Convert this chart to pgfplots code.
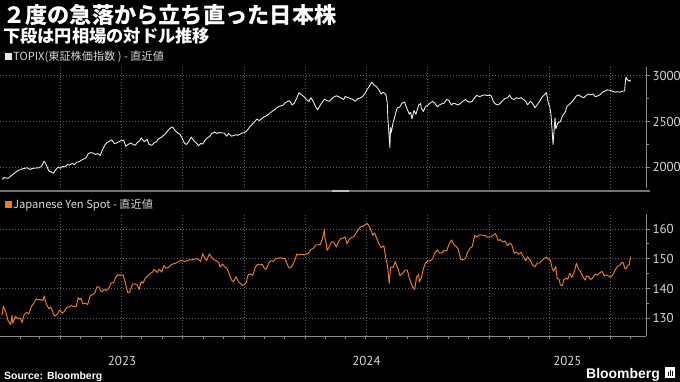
\documentclass[border=0pt]{standalone}
\usepackage{pgfplots}
\pgfplotsset{compat=1.18}
\usepackage{fontspec}
\setmainfont{Liberation Sans}
\newfontfamily\cjk{Noto Sans CJK JP}
\newfontfamily\lab{PT Sans}
\definecolor{yen}{HTML}{EE7A2C}
\definecolor{gridc}{HTML}{606060}
\definecolor{axc}{HTML}{8A8A8A}
\definecolor{txt}{HTML}{D8D8D8}

\pgfplotstableread{
d v
3 1868
6 1890
10 1881
13 1882
17 1910
20 1925
24 1950
27 1965
31 1975
34 1985
38 1990
41 1995
45 1975
48 1988
52 1990
55 1993
58 1994
62 2010
66 2067
69 2030
73 1960
76 1950
80 1935
83 1970
87 2003
90 1990
94 2010
97 2005
101 2030
104 2024
108 2045
111 2028
115 2057
118 2060
122 2080
125 2090
129 2105
132 2150
136 2160
139 2155
143 2140
146 2150
150 2130
153 2190
157 2245
160 2270
164 2285
167 2300
171 2258
174 2264
178 2280
180 2288
185 2295
188 2230
192 2250
195 2265
199 2250
202 2240
206 2275
209 2290
211 2322
213 2300
216 2280
220 2305
223 2250
227 2240
230 2265
234 2280
237 2310
242 2332
244 2345
248 2370
251 2400
255 2430
258 2440
262 2400
265 2380
269 2360
272 2323
276 2260
279 2250
283 2290
286 2330
290 2290
293 2270
297 2235
300 2260
303 2253
307 2300
310 2320
314 2340
317 2370
321 2385
324 2370
328 2380
333 2374
335 2375
339 2340
342 2370
346 2340
349 2345
353 2355
356 2350
360 2366
368 2390
374 2445
377 2470
381 2500
384 2525
388 2510
391 2530
395 2551
398 2560
402 2580
405 2600
409 2620
412 2640
416 2660
419 2670
423 2675
426 2700
430 2720
433 2725
437 2680
440 2700
444 2760
447 2813
451 2790
455 2768
458 2740
462 2720
465 2760
469 2710
472 2660
475 2626
479 2680
485 2743
488 2730
493 2720
496 2750
500 2770
503 2780
507 2770
510 2755
514 2740
516 2772
521 2760
524 2750
528 2740
531 2720
535 2750
538 2755
542 2770
546 2809
549 2850
552 2880
556 2929
559 2900
563 2880
566 2850
570 2800
573 2820
577 2794
579 2710
580 2537
583 2215
584 2434
585 2380
588 2490
592 2600
594 2646
598 2660
601 2700
605 2712
608 2650
612 2580
614 2600
616 2530
619 2620
622 2580
626 2680
629 2695
630 2645
633 2610
636 2660
640 2680
643 2700
647 2720
650 2700
654 2660
657 2680
661 2694
664 2700
668 2740
671 2730
675 2680
678 2700
682 2690
685 2680
689 2700
692 2720
696 2740
699 2720
703 2710
706 2720
710 2760
713 2785
717 2770
720 2780
724 2790
728 2785
734 2786
738 2715
741 2690
745 2680
748 2700
752 2730
755 2750
759 2760
762 2788
765 2750
769 2740
772 2760
776 2750
779 2760
783 2740
786 2720
789 2682
793 2720
796 2700
800 2650
803 2680
807 2720
810 2760
814 2790
817 2815
820 2700
822 2660
824 2570
827 2250
829 2450
830 2540
831 2420
834 2480
838 2500
841 2560
845 2600
848 2667
852 2690
856 2720
859 2750
862 2780
866 2790
869 2770
873 2760
876 2780
880 2801
883 2790
887 2800
890 2770
894 2780
897 2790
901 2820
904 2830
908 2845
913 2840
916 2830
920 2820
923 2825
927 2820
930 2830
934 2834
935 2927
936 2985
937 2964
940 2943
941 2950
942 2940
943 2952
}\topix

\pgfplotstableread{
d v
3 131.0
5 134.0
9 131.9
12 129.2
16 127.9
18 131.0
19 128.4
23 130.7
26 129.9
30 130.1
33 128.6
36 131.2
40 132.0
43 131.4
47 134.0
50 134.9
54 136.5
57 136.2
61 136.3
64 135.9
66 137.5
69 135.0
73 133.2
76 133.8
80 131.4
82 130.7
86 131.5
89 132.8
93 131.7
96 132.2
100 133.7
103 133.8
107 134.3
110 133.9
114 134.0
117 137.0
119 136.3
121 136.7
124 134.8
128 135.1
131 134.6
135 137.6
138 137.9
142 138.6
145 140.6
149 140.4
150 139.3
152 138.9
156 139.7
159 139.3
163 140.2
166 141.8
170 142.0
173 143.8
177 144.7
180 144.3
184 144.6
187 142.3
191 138.6
194 138.8
198 141.4
201 141.6
205 141.2
208 139.7
211 142.3
214 141.8
217 143.4
221 144.2
224 145.0
228 145.5
231 146.4
235 145.4
238 146.5
242 145.5
245 147.7
248 146.8
252 147.1
255 147.8
259 148.3
262 148.4
266 148.9
269 149.3
272 149.4
276 149.0
279 149.3
283 149.6
286 149.6
290 149.8
293 150.0
297 149.7
300 149.0
303 151.7
306 150.3
309 149.4
313 151.6
316 150.7
320 149.6
323 149.4
327 148.7
329 147.2
333 148.2
336 147.2
339 146.8
342 145.3
346 142.9
349 142.2
353 143.9
356 142.5
361 141.4
363 141.0
368 141.9
371 144.6
375 144.9
378 144.4
382 147.2
385 148.1
389 147.9
392 148.1
395 146.9
398 146.4
402 148.6
405 149.3
409 149.1
412 150.0
416 150.2
419 150.3
423 150.0
426 150.1
430 147.9
432 147.0
434 146.9
437 147.7
440 149.0
444 151.6
447 151.3
451 151.5
455 151.3
458 151.6
461 151.8
465 153.2
468 153.3
472 154.6
475 154.6
479 154.8
482 156.5
484 158.3
485 159.8
486 156.8
488 155.0
489 152.8
492 153.9
496 155.7
499 155.6
503 153.9
506 155.7
510 156.8
513 156.9
516 157.3
519 155.0
522 156.4
526 157.2
529 157.4
533 158.8
536 159.8
540 160.8
543 160.9
547 161.5
549 161.9
552 161.0
556 158.8
557 157.9
560 158.6
563 157.0
566 155.3
570 153.7
574 154.3
577 150.0
578 149.4
580 146.5
582 141.7
584 147.0
586 147.3
588 147.1
591 149.0
593 147.7
596 146.2
598 144.3
602 145.1
606 146.2
609 146.2
612 143.5
614 142.3
617 140.6
620 139.6
623 143.9
626 144.7
627 142.2
630 143.6
633 146.5
636 148.5
640 149.3
643 149.2
647 150.0
650 151.9
654 153.0
657 151.9
661 152.0
664 152.8
668 152.6
671 154.6
675 156.3
679 154.6
682 154.1
685 153.3
689 149.8
692 149.6
696 150.1
699 152.1
703 153.6
706 154.0
710 157.9
713 157.3
717 158.0
721 157.9
725 157.8
729 157.2
734 157.3
738 158.0
741 158.4
745 156.1
748 156.4
752 155.6
755 156.0
759 154.4
762 155.2
765 154.8
769 151.8
772 152.3
776 151.5
779 152.1
783 150.6
786 149.3
789 150.6
793 149.5
796 148.0
800 147.3
803 148.5
807 148.6
810 149.3
814 150.2
817 150.6
820 149.9
823 149.5
826 146.5
828 145.9
831 147.4
833 143.5
836 143.0
838 141.2
841 140.9
843 142.9
847 143.5
849 143.1
852 145.2
855 143.7
859 145.8
862 148.5
865 146.5
868 145.7
872 143.8
875 142.8
877 144.2
880 144.0
883 143.0
886 143.5
890 144.8
893 144.5
897 145.2
900 145.8
904 144.2
907 144.6
911 144.0
913 143.8
916 144.5
920 146.2
923 147.4
927 147.9
930 148.8
932 148.6
934 146.9
936 146.5
938 147.6
941 148.0
942 149.5
943 150.7
}\yen

\pgfplotsset{
  common/.style={
    scale only axis, width=646bp, xmin=0, xmax=966,
    tick align=outside,
    /pgf/number format/assume math mode=true,
    /pgf/number format/1000 sep={},
    axis y line*=right,
    y axis line style={axc, line width=0.8bp},
    major tick length=4bp, minor tick length=2.5bp,
    every tick/.style={axc, line width=0.7bp},
    yticklabel style={font=\lab\fontsize{13}{13}\selectfont, text=txt, xshift=-1bp},
    minor y tick num=1,
    ymajorgrids,
    grid style={gridc, dash pattern=on 1bp off 2bp, line width=0.6bp},
    extra x ticks={90,181,273,365,456,547,639,731,821,912},
    extra x tick labels={},
    extra x tick style={grid=major, major tick length=0pt},
  }
}

\begin{document}
\begin{tikzpicture}
\fill[black] (0,0) rectangle (680bp,-382bp);
\useasboundingbox (0,0) rectangle (680bp,-382bp);

% titles
\node[anchor=base west, inner sep=0, text=white] at (3bp,-23.5bp) {\cjk\bfseries\fontsize{22.3}{23}\selectfont ２度の急落から立ち直った日本株};
\node[anchor=base west, inner sep=0, text=white] at (3bp,-42bp) {\cjk\bfseries\fontsize{17.3}{18}\selectfont 下段は円相場の対ドル推移};
\fill[white!90!black] (5bp,-53bp) rectangle (12bp,-60bp);
\node[anchor=base west, inner sep=0, text=txt] at (13bp,-60.5bp) {\cjk\fontsize{11.2}{12}\selectfont TOPIX(東証株価指数 ) - 直近値};
\fill[yen] (5bp,-201bp) rectangle (12bp,-208bp);
\node[anchor=base west, inner sep=0, text=txt] at (13bp,-208.5bp) {\cjk\fontsize{11.2}{12}\selectfont Japanese Yen Spot - 直近値};

% top panel
\begin{axis}[common, at={(0bp,-66.7bp)}, anchor=north west, height=121.3bp,
  ymin=1774, ymax=3098, ytick={2000,2500,3000},
  axis x line*=bottom, x axis line style={draw=none}, xtick=\empty]
\addplot[white!92!black, line width=0.9bp, line join=round] table[x=d,y=v] {\topix};
\end{axis}

\fill[white!45!black] (0,-189.8bp) rectangle (650bp,-192.3bp);
\fill[white!75!black] (332bp,-189.8bp) rectangle (349bp,-192.3bp);

% bottom panel
\begin{axis}[common, at={(0bp,-214bp)}, anchor=north west, height=122bp,
  ymin=124.05, ymax=165, ytick={130,140,150,160},
  axis x line*=bottom, x axis line style={axc, line width=1bp},
  xtick={182.5,548,848.5}, xticklabels={2023,2024,2025},
  major x tick style={draw=none},
  xticklabel style={font=\lab\fontsize{13}{13}\selectfont, text=txt, yshift=-13bp},
  minor xtick={31,59,90,120,151,181,212,243,273,304,334,365,396,425,456,486,517,547,578,609,639,670,700,731,762,790,821,851,882,912,943},
  minor tick length=3bp,
  clip=false]
\addplot[yen, line width=0.95bp, line join=round] table[x=d,y=v] {\yen};
\draw[axc, line width=0.7bp] (axis cs:365,124.05) ++(0,-14bp) -- ++(0,-18bp);
\draw[axc, line width=0.7bp] (axis cs:731,124.05) ++(0,-14bp) -- ++(0,-18bp);
\end{axis}

\node[anchor=base west, inner sep=0, text=white] at (4bp,-379bp) {\bfseries\fontsize{10.5}{11}\selectfont Source: Bloomberg};
\node[anchor=base east, inner sep=0, text=white] at (660bp,-378.5bp) {\bfseries\fontsize{14}{14}\selectfont Bloomberg};
\fill[white] (665bp,-367bp) rectangle (675bp,-378bp);
\fill[black] (667.5bp,-376bp) rectangle (668.8bp,-372bp);
\fill[black] (669.7bp,-376bp) rectangle (671bp,-369.5bp);
\fill[black] (671.9bp,-376bp) rectangle (673.2bp,-371bp);
\end{tikzpicture}
\end{document}
